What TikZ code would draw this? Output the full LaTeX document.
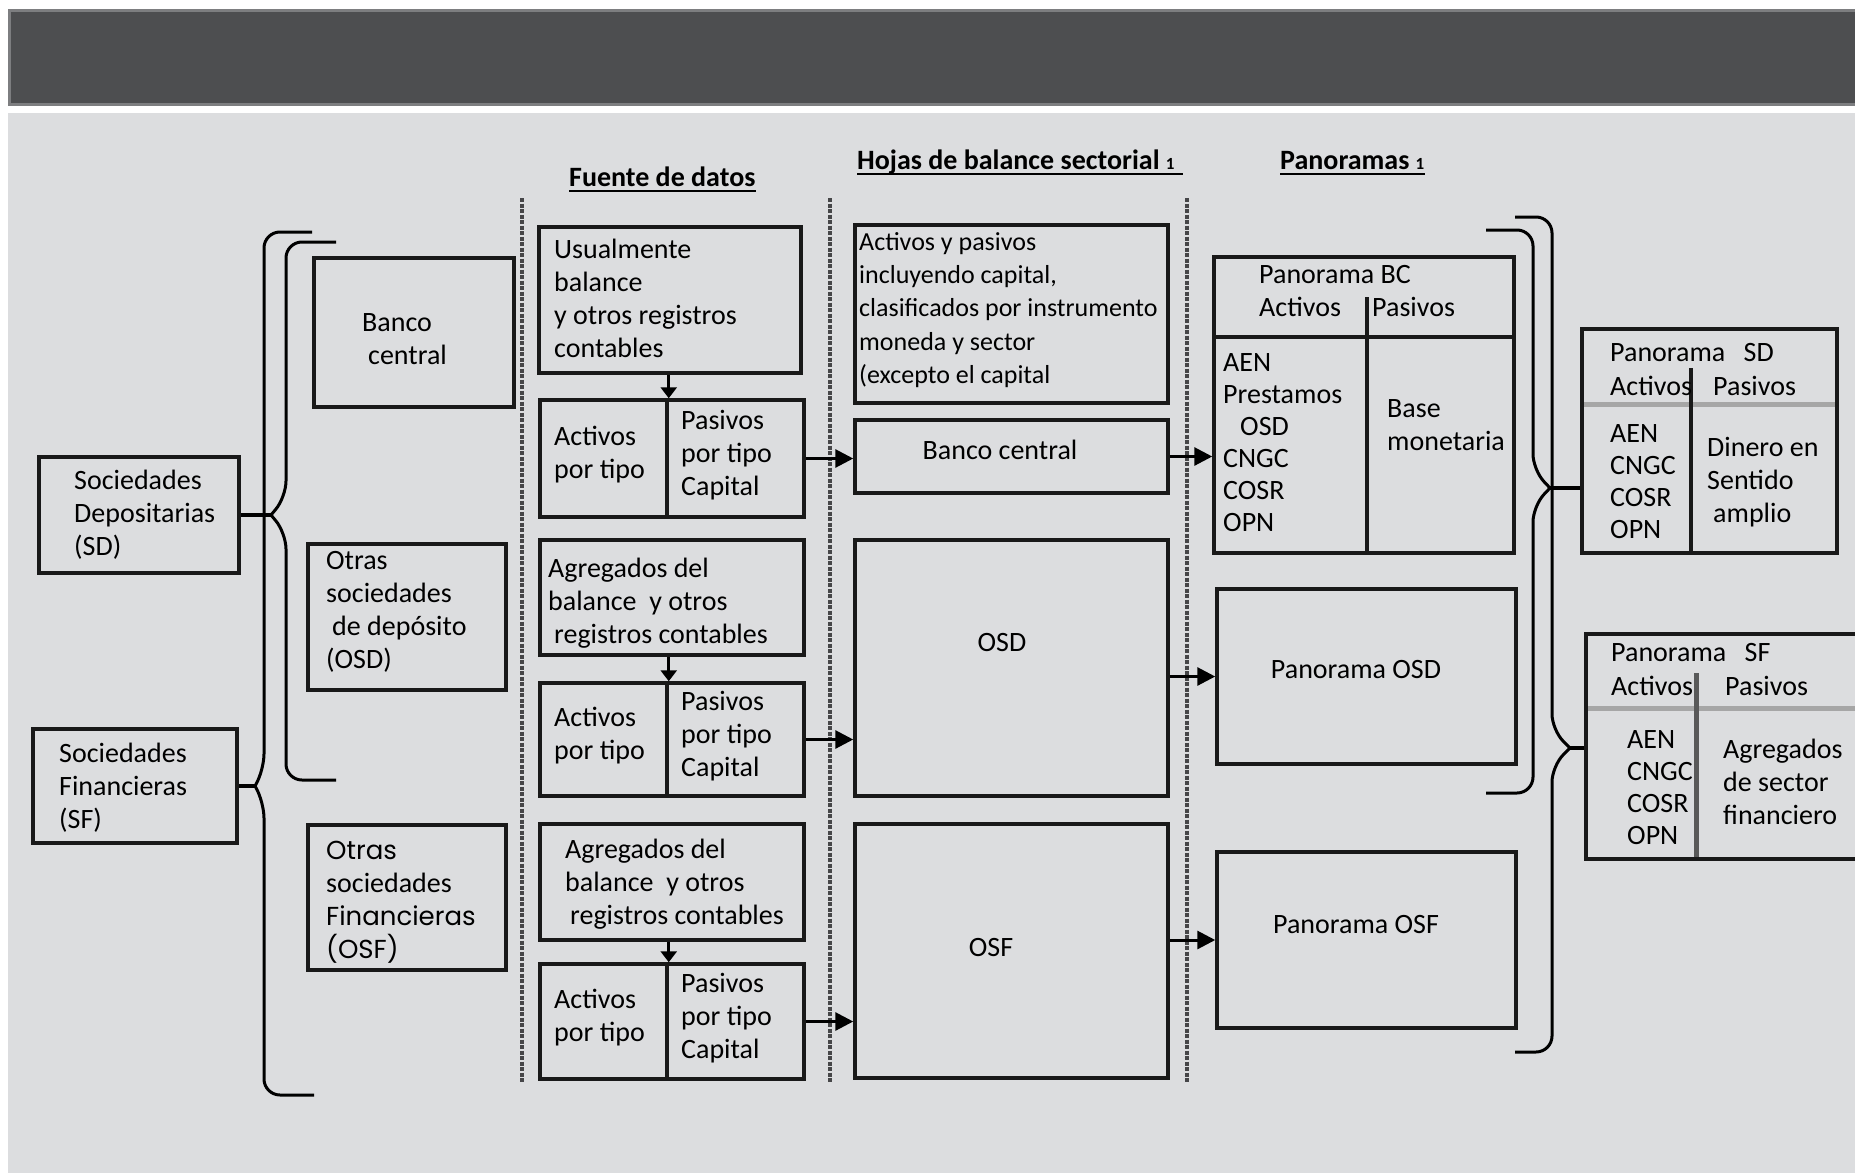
\documentclass[tikz,border=0pt]{standalone}
\usepackage{fontspec}
\setmainfont{Carlito}
\newfontfamily\gotica{Poppins}
\usetikzlibrary{arrows.meta,fit}
\definecolor{fondo}{RGB}{220,221,223}
\definecolor{banda}{RGB}{77,78,80}
\definecolor{bandaborde}{RGB}{125,126,128}
\definecolor{punteado}{RGB}{70,70,72}
\newcommand{\uno}{{\fontsize{17}{17}\selectfont 1}}
\newcommand{\gotico}[1]{{\gotica\fontsize{26}{33}\selectfont #1}}

\tikzset{
  caja/.style={draw=black!90, line width=3.5pt, inner sep=0pt},
  linea/.style={draw=black!90, line width=3.5pt},
  lineagris/.style={draw=black!35, line width=5pt},
  texto/.style={anchor=west, align=left, inner sep=0pt, font=\fontsize{28}{33}\selectfont},
  lista/.style={texto, font=\fontsize{28}{32}\selectfont},
  titulo/.style={anchor=base west, inner sep=0pt, font=\bfseries\fontsize{28}{33}\selectfont},
  subrayado/.style={line width=2.5pt},
  llave/.style={line width=3pt, rounded corners=16pt},
  conector/.style={line width=3.5pt},
  flecha/.style={line width=3pt, -{Triangle[length=18pt,width=18pt]}},
  flechita/.style={line width=3pt, -{Triangle[length=11pt,width=16pt]}},
  separador/.style={line width=3.5pt, punteado, dash pattern=on 4pt off 1.5pt},
}

\begin{document}
\begin{tikzpicture}[x=1pt,y=-1pt]
\useasboundingbox (0,0) rectangle (1855,1173);
% fondo y banda
\fill[white] (0,0) rectangle (1855,1173);
\fill[fondo] (8,113) rectangle (1855,1173);
\filldraw[fill=banda, draw=bandaborde, line width=3pt] (9.5,10.5) rectangle (1870,104.5);

% separadores de columnas
\foreach \xsep in {522, 830, 1187}
{
\draw[separador] (\xsep,198) -- (\xsep,1083);
}

% titulos
\node[titulo] (fuente) at (569,186) {Fuente de datos};
\node[titulo] (hojas) at (857,169) {Hojas de balance sectorial \uno};
\node[titulo] (panoramas) at (1280,169) {Panoramas \uno};
\draw[subrayado] ([yshift=-5pt]fuente.base west) -- ([yshift=-5pt]fuente.base east);
\draw[subrayado] ([yshift=-5pt]hojas.base west) -- ([yshift=-5pt,xshift=8pt]hojas.base east);
\draw[subrayado] ([yshift=-5pt]panoramas.base west) -- ([yshift=-5pt]panoramas.base east);

% sociedades
\node[caja, fit={(39,457) (239,573)}] (sd) {};
\node[texto] (sd-t) at (74,515) {Sociedades\\Depositarias\\(SD)};
\node[caja, fit={(33,729) (237,843)}] (sf) {};
\node[texto] (sf-t) at (59,788) {Sociedades\\Financieras\\(SF)};
\node[caja, fit={(314,258) (514,407)}] (bc) {};
\node[texto] (bc-t) at (362,339) {Banco\\\hspace*{6pt}central};
\node[caja, fit={(308,544) (506,690)}] (osd) {};
\node[texto] (osd-t) at (326,612) {Otras\\sociedades\\\hspace*{6pt}de depósito\\(OSD)};
\node[caja, fit={(308,825) (506,970)}] (osf) {};
\node[texto] (osf-t) at (326,902) {\gotico{Otras}\\sociedades\\\gotico{Financieras}\\\gotico{(OSF)}};

% llaves de la izquierda
\coordinate (llsd) at (271,515);
\coordinate (llsf) at (255,786);
\draw[llave] (336,242) -- (286,242) -- (286,497) -- (llsd);
\draw[llave] (llsd) -- (286,533) -- (286,780) -- (336,780);
\draw[llave] (312,232) -- (264,232) -- (264,770) -- (llsf);
\draw[llave] (llsf) -- (264,802) -- (264,1095) -- (314,1095);
\draw[conector] (sd.east) -- (llsd);
\draw[conector] (sf.east) -- (llsf);

% fuente de datos
\node[caja, fit={(539,227) (801,373)}] (usual) {};
\node[texto] (usual-t) at (554,298) {Usualmente\\balance\\y otros registros\\contables};
\node[caja, fit={(540,540) (804,655)}] (agr1) {};
\node[texto] (agr1-t) at (548,603) {Agregados del\\balance\ \ y otros\\\hspace*{6pt}registros contables};
\node[caja, fit={(540,824) (804,940)}] (agr2) {};
\node[texto] (agr2-t) at (565,884) {Agregados del\\balance\ \ y otros\\\hspace*{5pt}registros contables};
\foreach \n/\ya/\yb in {1/400/517, 2/683/796, 3/964/1079}
{
\node[caja, fit={(540,\ya) (667,\yb)}] (act\n) {};
\node[caja, fit={(667,\ya) (804,\yb)}] (pas\n) {};
\node[texto] (act\n-t) at (554,{(\ya+\yb)/2-4}) {Activos\\por tipo};
\node[texto] (pas\n-t) at (681,{(\ya+\yb)/2-3}) {Pasivos\\por tipo\\Capital};
}
\draw[flechita] (usual.south -| act1.north east) -- (act1.north east);
\draw[flechita] (agr1.south -| act2.north east) -- (act2.north east);
\draw[flechita] (agr2.south -| act3.north east) -- (act3.north east);

% hojas de balance sectorial
\node[caja, fit={(855,225) (1168,403)}] (apnota) {};
\node[texto, font=\fontsize{26}{33.3}\selectfont] (apnota-t) at (859,310) {Activos y pasivos\\incluyendo capital,\\clasificados por instrumento\\moneda y sector\\(excepto el capital};
\node[caja, fit={(855,420) (1168,493)}] (bcs) {};
\node[texto, anchor=center] (bcs-t) at (1000,450) {Banco central};
\node[caja, fit={(855,540) (1168,796)}] (osds) {};
\node[texto, anchor=center] (osds-t) at (1002,642) {OSD};
\node[caja, fit={(855,824) (1168,1078)}] (osfs) {};
\node[texto, anchor=center] (osfs-t) at (991,947) {OSF};
\draw[flecha] (pas1.east) -- (pas1.east -| bcs.west);
\draw[flecha] (pas2.east) -- (pas2.east -| osds.west);
\draw[flecha] (pas3.east) -- (pas3.east -| osfs.west);

% panoramas
\node[caja, fit={(1214,257) (1514,553)}] (pbc) {};
\draw[linea] (1214,337) -- (1514,337);
\draw[linea] (1367,297) -- (1367,553);
\node[texto] (pbc-tit) at (1259,275) {Panorama BC};
\node[texto] (pbc-act) at (1259,307) {Activos};
\node[texto] (pbc-pas) at (1372,307) {Pasivos};
\node[lista] (pbc-izq) at (1223,443) {AEN\\Prestamos\\\hspace*{17pt}OSD\\CNGC\\COSR\\OPN};
\node[texto] (pbc-der) at (1387,425) {Base\\monetaria};
\node[caja, fit={(1217,589) (1516,764)}] (posd) {};
\node[texto, anchor=center] (posd-t) at (1356,670) {Panorama OSD};
\node[caja, fit={(1217,852) (1516,1028)}] (posf) {};
\node[texto, anchor=center] (posf-t) at (1356,925) {Panorama OSF};
\draw[flecha] (bcs.east) -- (bcs.east -| pbc.west);
\draw[flecha] (osds.east |- posd.west) -- (posd.west);
\draw[flecha] (osfs.east |- posf.west) -- (posf.west);

% panorama SD
\node[caja, fit={(1582,329) (1837,553)}] (psd) {};
\draw[lineagris] (1584,404) -- (1835,404);
\draw[linea] (1691,368) -- (1691,553);
\node[texto] (psd-tit) at (1610,353) {Panorama\hspace{12pt} SD};
\node[texto] (psd-act) at (1610,386) {Activos};
\node[texto] (psd-pas) at (1713,386) {Pasivos};
\node[lista] (psd-izq) at (1610,482) {AEN\\CNGC\\COSR\\OPN};
\node[texto] (psd-der) at (1707,482) {Dinero en\\Sentido\\\hspace*{6pt}amplio};

% panorama SF
\node[caja, fit={(1586,634) (1880,859)}] (psf) {};
\draw[lineagris] (1588,708) -- (1880,708);
\draw[line width=5pt, black!65] (1696,673) -- (1696,857);
\node[texto] (psf-tit) at (1611,653) {Panorama\hspace{12pt} SF};
\node[texto] (psf-act) at (1611,686) {Activos};
\node[texto] (psf-pas) at (1725,686) {Pasivos};
\node[lista] (psf-izq) at (1627,788) {AEN\\CNGC\\COSR\\OPN};
\node[texto] (psf-der) at (1723,782) {Agregados\\de sector\\financiero};

% llaves de la derecha
\coordinate (llpsd) at (1550,488);
\coordinate (llpsf) at (1570,748);
\draw[llave] (1486,230) -- (1533,230) -- (1533,470) -- (llpsd);
\draw[llave] (llpsd) -- (1533,506) -- (1533,793) -- (1486,793);
\draw[llave] (1515,217) -- (1552,217) -- (1552,730) -- (llpsf);
\draw[llave] (llpsf) -- (1552,766) -- (1552,1052) -- (1515,1052);
\draw[conector] (llpsd) -- (llpsd -| psd.west);
\draw[conector] (llpsf) -- (llpsf -| psf.west);
\end{tikzpicture}
\end{document}
